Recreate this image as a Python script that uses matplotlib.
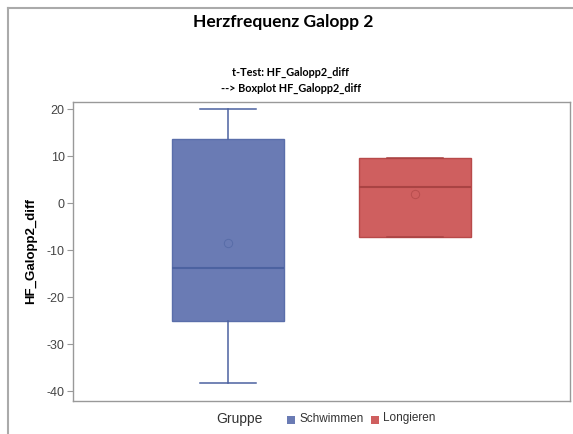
import matplotlib
matplotlib.use("Agg")
import matplotlib.pyplot as plt
from matplotlib.lines import Line2D
from matplotlib.patches import Rectangle

groups = ["Schwimmen", "Longieren"]
whislo = [-38.3, -7.2]
q1 = [-25.0, -7.2]
med = [-13.7, 3.5]
q3 = [13.7, 9.6]
whishi = [20.0, 9.6]
means = [-8.5, 2.0]
yticks = [-40, -30, -20, -10, 0, 10, 20]

fills = ["#6A7BB4", "#CF5F5F"]
edges = ["#5A6EAA", "#B84A4A"]
medcols = ["#4C62A0", "#A94343"]

fig = plt.figure(figsize=(5.73, 4.34), dpi=100)
ax = fig.add_axes([73/573, 1-400.7/434, (570-73)/573, (400.7-102)/434])

stats = []
for i, g in enumerate(groups):
    stats.append(dict(label=g, whislo=whislo[i], q1=q1[i], med=med[i], q3=q3[i],
                      whishi=whishi[i], mean=means[i], fliers=[]))

for i, s in enumerate(stats):
    ax.bxp([s], positions=[i], widths=0.6, patch_artist=True, showmeans=True,
           showfliers=False,
           boxprops=dict(facecolor=fills[i], edgecolor=edges[i], linewidth=1.0),
           medianprops=dict(color=medcols[i], linewidth=1.5),
           whiskerprops=dict(color=medcols[i], linewidth=1.1),
           capprops=dict(color=medcols[i], linewidth=1.1),
           capwidths=0.3,
           meanprops=dict(marker="o", markerfacecolor="none",
                          markeredgecolor=medcols[i], markersize=6, markeredgewidth=0.7,
                          alpha=0.6))

ax.set_xlim(-0.83, 1.83)
ax.set_ylim(-42.0, 21.55)
ax.set_yticks(yticks)
ax.set_yticklabels([str(t) for t in yticks], fontfamily="Liberation Sans", fontsize=9, color="#444444")
ax.set_xticks([])
ax.tick_params(axis="y", length=4, color="#999999", width=0.8, pad=2)
for sp in ax.spines.values():
    sp.set_color("#999999")
    sp.set_linewidth(1.0)
ax.set_ylabel("HF_Galopp2_diff", fontfamily="Liberation Sans", fontweight="bold",
              fontsize=9.5, color="#000000", labelpad=7)

# titles
fig.text(283/573, 1-22/434, "Herzfrequenz Galopp 2", ha="center", va="center",
         fontfamily="Lato", fontweight="bold", fontsize=12.5)
fig.text(291/573, 1-72/434, "t-Test: HF_Galopp2_diff", ha="center", va="center",
         fontfamily="Lato", fontweight="bold", fontsize=7.8)
fig.text(291/573, 1-88/434, "--> Boxplot HF_Galopp2_diff", ha="center", va="center",
         fontfamily="Lato", fontweight="bold", fontsize=7.8)

# legend
fig.text(216/573, 1-419/434, "Gruppe", ha="left", va="center",
         fontfamily="Liberation Sans", fontsize=10, color="#333333")
lx = [287, 371]
for i, g in enumerate(groups):
    fig.patches.append(Rectangle((lx[i]/573, 1-423.5/434), 8/573, 8/434,
                                 transform=fig.transFigure, facecolor=fills[i],
                                 edgecolor="none"))
    fig.text((lx[i]+12)/573, 1-418.5/434, g, ha="left", va="center",
             fontfamily="Liberation Sans", fontsize=8.5, color="#333333")

# outer border
fig.add_artist(Line2D([8/573, 8/573], [0, 1-8/434], transform=fig.transFigure,
                      color="#AAAAAA", linewidth=1.5))
fig.add_artist(Line2D([8/573, 1], [1-8/434, 1-8/434], transform=fig.transFigure,
                      color="#AAAAAA", linewidth=1.5))

fig.savefig("out.png", dpi=100)
